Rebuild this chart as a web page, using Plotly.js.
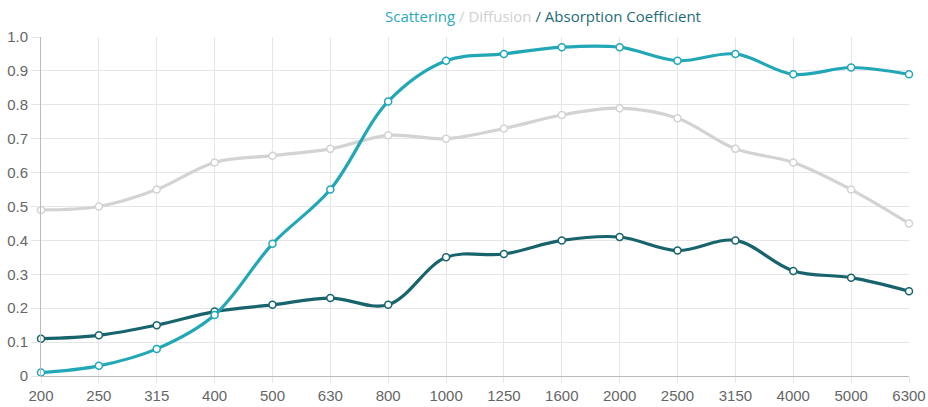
<!DOCTYPE html>
<html><head><meta charset="utf-8">
<script src="https://cdn.plot.ly/plotly-3.0.1.min.js"></script>
<style>html,body{margin:0;padding:0;background:#fff}#c{width:928px;height:407px}</style>
</head><body><div id="c"></div>
<script>
const categories = ["200","250","315","400","500","630","800","1000","1250","1600","2000","2500","3150","4000","5000","6300"];
const scattering = [0.01,0.03,0.08,0.18,0.39,0.55,0.81,0.93,0.95,0.97,0.97,0.93,0.95,0.89,0.91,0.89];
const diffusion = [0.49,0.50,0.55,0.63,0.65,0.67,0.71,0.70,0.73,0.77,0.79,0.76,0.67,0.63,0.55,0.45];
const absorption = [0.11,0.12,0.15,0.19,0.21,0.23,0.21,0.35,0.36,0.40,0.41,0.37,0.40,0.31,0.29,0.25];
const yTickVals = [0,0.1,0.2,0.3,0.4,0.5,0.6,0.7,0.8,0.9,1.0];
const yTickText = ["0","0.1","0.2","0.3","0.4","0.5","0.6","0.7","0.8","0.9","1.0"];

function tr(y, color, name){
  return {x:categories, y:y, type:'scatter', mode:'lines+markers', name:name,
    line:{color:color, width:3.2, shape:'spline', smoothing:1},
    marker:{size:7, color:'#fff', line:{color:color, width:1.5}}, cliponaxis:false};
}
const data = [tr(diffusion,'#d3d3d3','Diffusion'), tr(absorption,'#17646d','Absorption'), tr(scattering,'#22a7b7','Scattering')];
const layout = {
  width:928, height:407, margin:{l:41, r:19, t:37, b:31},
  paper_bgcolor:'#fff', plot_bgcolor:'#fff', showlegend:false,
  title:{text:'<span style="color:#2aaab9">Scattering</span><span style="color:#d0d0d0"> / Diffusion</span><span style="color:#1e6c75"> / Absorption Coefficient</span>',
    font:{family:'Open Sans, sans-serif', size:15}, x:543/928, xanchor:'center', xref:'container', y:1-17/407, yref:'container', yanchor:'middle'},
  xaxis:{type:'category', range:[0,15], showgrid:true, gridcolor:'#e6e6e6', gridwidth:1,
    ticks:'outside', ticklen:6, tickcolor:'#e6e6e6', showline:true, linecolor:'#bbbbbb', linewidth:1,
    tickfont:{family:'Liberation Sans, Arial, sans-serif', size:15, color:'#666'}, zeroline:false, fixedrange:true},
  yaxis:{range:[0,1], tickvals:yTickVals, ticktext:yTickText, showgrid:true, gridcolor:'#e6e6e6', gridwidth:1,
    ticks:'outside', ticklen:9, tickcolor:'#e6e6e6', showline:true, linecolor:'#bbbbbb', linewidth:1,
    tickfont:{family:'Liberation Sans, Arial, sans-serif', size:15, color:'#666'}, zeroline:false, fixedrange:true}
};
Plotly.newPlot('c', data, layout, {displayModeBar:false, staticPlot:true});
</script></body></html>
